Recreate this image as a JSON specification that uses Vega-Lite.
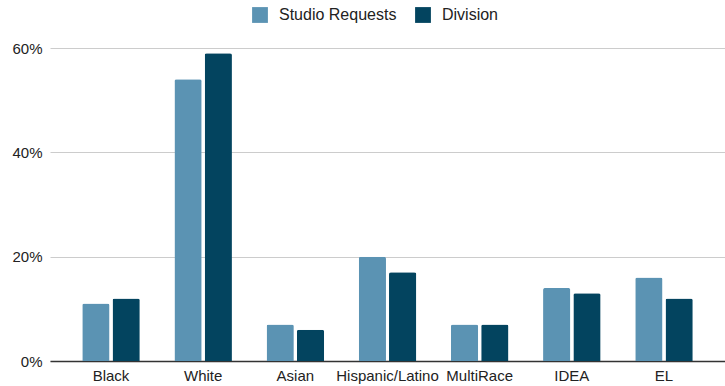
{
  "$schema": "https://vega.github.io/schema/vega-lite/v6.json",
  "autosize": {"type": "none"},
  "padding": {"left": 50, "top": 48, "right": 0, "bottom": 25},
  "width": 675,
  "height": 313,
  "background": "white",
  "config": {
    "font": "Liberation Sans",
    "view": {"stroke": null}
  },
  "data": {
    "values": [
      {"group": "Black", "series": "Studio Requests", "value": 0.11},
      {"group": "Black", "series": "Division", "value": 0.12},
      {"group": "White", "series": "Studio Requests", "value": 0.54},
      {"group": "White", "series": "Division", "value": 0.59},
      {"group": "Asian", "series": "Studio Requests", "value": 0.07},
      {"group": "Asian", "series": "Division", "value": 0.06},
      {"group": "Hispanic/Latino", "series": "Studio Requests", "value": 0.20},
      {"group": "Hispanic/Latino", "series": "Division", "value": 0.17},
      {"group": "MultiRace", "series": "Studio Requests", "value": 0.07},
      {"group": "MultiRace", "series": "Division", "value": 0.07},
      {"group": "IDEA", "series": "Studio Requests", "value": 0.14},
      {"group": "IDEA", "series": "Division", "value": 0.13},
      {"group": "EL", "series": "Studio Requests", "value": 0.16},
      {"group": "EL", "series": "Division", "value": 0.12}
    ]
  },
  "mark": {"type": "bar", "cornerRadiusTopLeft": 2, "cornerRadiusTopRight": 2},
  "encoding": {
    "x": {
      "field": "group",
      "type": "nominal",
      "sort": ["Black", "White", "Asian", "Hispanic/Latino", "MultiRace", "IDEA", "EL"],
      "scale": {"paddingInner": 0.376, "paddingOuter": 0.35},
      "axis": {
        "title": null,
        "labelAngle": 0,
        "labelFontSize": 15,
        "labelColor": "#222222",
        "labelPadding": 7,
        "ticks": false,
        "domainColor": "#333333",
        "domainWidth": 1.5
      }
    },
    "xOffset": {
      "field": "series",
      "type": "nominal",
      "sort": ["Studio Requests", "Division"],
      "scale": {"paddingInner": 0.1}
    },
    "y": {
      "field": "value",
      "type": "quantitative",
      "scale": {"domain": [0, 0.6]},
      "axis": {
        "title": null,
        "format": ".0%",
        "values": [0, 0.2, 0.4, 0.6],
        "labelFontSize": 15,
        "labelColor": "#222222",
        "labelPadding": 8,
        "ticks": false,
        "domain": false,
        "gridColor": "#cccccc"
      }
    },
    "color": {
      "field": "series",
      "type": "nominal",
      "sort": ["Studio Requests", "Division"],
      "scale": {"domain": ["Studio Requests", "Division"], "range": ["#5b93b3", "#03445f"]},
      "legend": {
        "title": null,
        "orient": "none",
        "direction": "horizontal",
        "legendX": 202,
        "legendY": -41,
        "symbolType": "square",
        "symbolSize": 250,
        "symbolStrokeWidth": 0,
        "labelFontSize": 16,
        "labelColor": "#222222",
        "columnPadding": 18,
        "labelOffset": 11
      }
    }
  }
}
